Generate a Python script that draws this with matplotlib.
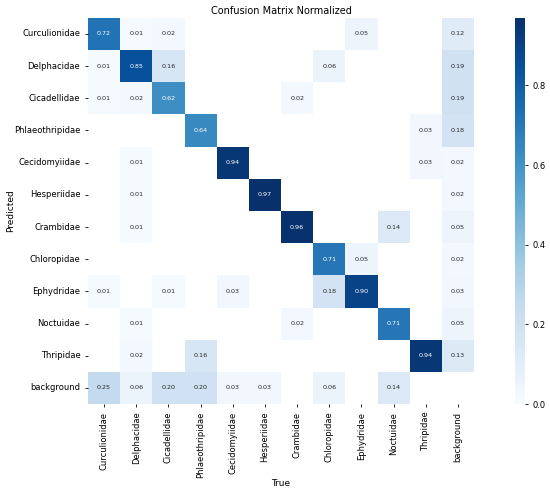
import numpy as np
import matplotlib
matplotlib.use("Agg")
import matplotlib.pyplot as plt
import seaborn as sns

names = ["Curculionidae", "Delphacidae", "Cicadellidae", "Phlaeothripidae", "Cecidomyiidae",
         "Hesperiidae", "Crambidae", "Chloropidae", "Ephydridae", "Noctuidae", "Thripidae",
         "background"]

# rows = Predicted, cols = True (0 = blank cell)
r_curculionidae = [0.72, 0.01, 0.02, 0, 0, 0, 0, 0, 0.05, 0, 0, 0.12]
r_delphacidae = [0.01, 0.85, 0.16, 0, 0, 0, 0, 0.06, 0, 0, 0, 0.19]
r_cicadellidae = [0.01, 0.02, 0.62, 0, 0, 0, 0.02, 0, 0, 0, 0, 0.19]
r_phlaeothripidae = [0, 0, 0, 0.64, 0, 0, 0, 0, 0, 0, 0.03, 0.18]
r_cecidomyiidae = [0, 0.01, 0, 0, 0.94, 0, 0, 0, 0, 0, 0.03, 0.02]
r_hesperiidae = [0, 0.01, 0, 0, 0, 0.97, 0, 0, 0, 0, 0, 0.02]
r_crambidae = [0, 0.01, 0, 0, 0, 0, 0.96, 0, 0, 0.14, 0, 0.05]
r_chloropidae = [0, 0, 0, 0, 0, 0, 0, 0.71, 0.05, 0, 0, 0.02]
r_ephydridae = [0.01, 0, 0.01, 0, 0.03, 0, 0, 0.18, 0.90, 0, 0, 0.03]
r_noctuidae = [0, 0.01, 0, 0, 0, 0, 0.02, 0, 0, 0.71, 0, 0.05]
r_thripidae = [0, 0.02, 0, 0.16, 0, 0, 0, 0, 0, 0, 0.94, 0.13]
r_background = [0.25, 0.06, 0.20, 0.20, 0.03, 0.03, 0, 0.06, 0, 0.14, 0, 0]

m = np.array([r_curculionidae, r_delphacidae, r_cicadellidae, r_phlaeothripidae,
              r_cecidomyiidae, r_hesperiidae, r_crambidae, r_chloropidae, r_ephydridae,
              r_noctuidae, r_thripidae, r_background], dtype=float)
m[m < 0.005] = np.nan

fig = plt.figure(figsize=(5.5, 4.94), dpi=100)
ax = fig.add_axes([0.16, 0.182, 0.702, 0.782])
cax = fig.add_axes([0.936, 0.182, 0.019, 0.782])
sns.heatmap(m, ax=ax, cbar_ax=cax, cmap="Blues", annot=True, fmt=".2f",
            annot_kws={"size": 4.6}, square=False, vmin=0.0,
            xticklabels=names, yticklabels=names)
ax.tick_params(axis="both", labelsize=6, length=2, width=0.6)
ax.set_xticklabels(names, rotation=90)
ax.set_yticklabels(names, rotation=0)
cax.tick_params(labelsize=6, length=2, width=0.6)
for s in cax.spines.values():
    s.set_visible(False)
ax.set_xlabel("True", fontsize=6.5, labelpad=0.5)
ax.set_ylabel("Predicted", fontsize=6.5, labelpad=-1)
ax.set_title("Confusion Matrix Normalized", fontsize=7, pad=3)
fig.savefig("out.png")
